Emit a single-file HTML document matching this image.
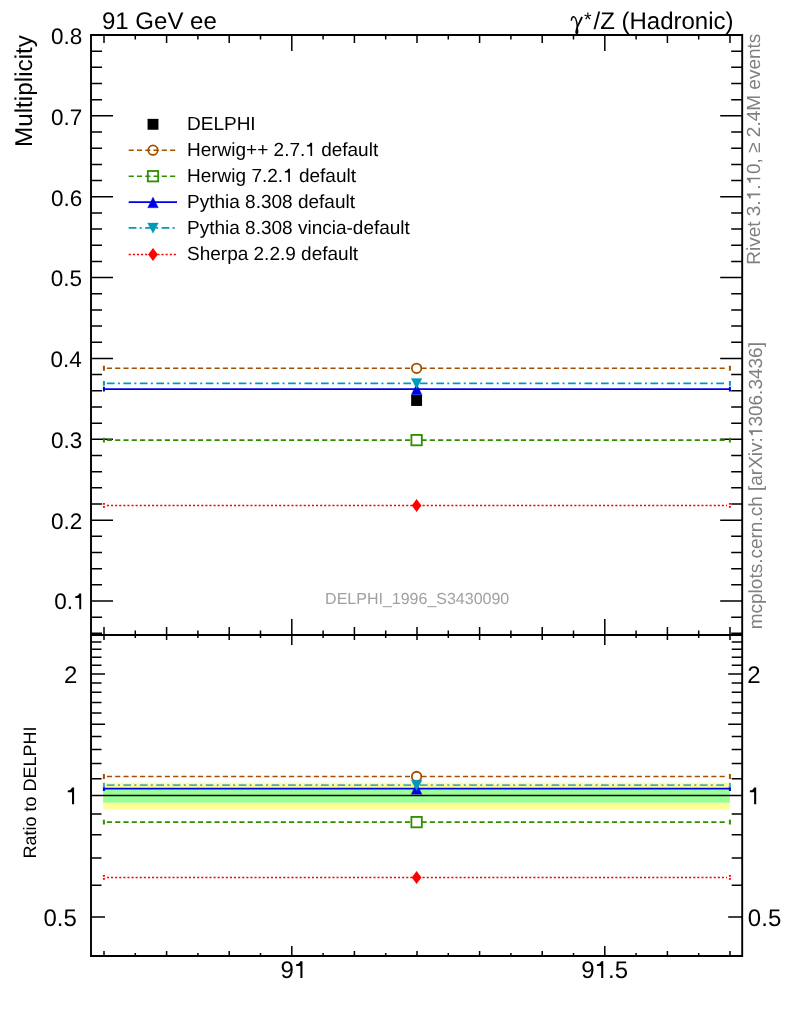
<!DOCTYPE html><html><head><meta charset="utf-8"><style>html,body{margin:0;padding:0;background:#fff;width:786px;height:1024px;overflow:hidden;position:relative}</style></head><body><svg width="786" height="1024" viewBox="0 0 786 1024" style="position:absolute;left:0;top:0;will-change:transform;text-rendering:geometricPrecision;white-space:pre">
<rect x="0" y="0" width="786" height="1024" fill="#fff"/>
<rect x="103.10000000000001" y="782.7" width="626.8" height="27" fill="#ffff99"/>
<rect x="103.10000000000001" y="789.1" width="626.8" height="13.6" fill="#99ff99"/>
<line x1="91" y1="795.6" x2="742" y2="795.6" stroke="#000" stroke-width="1.5"/>
<path d="M91 35.00h22M742.2 35.00h-22M91 51.17h11M742.2 51.17h-11M91 67.34h11M742.2 67.34h-11M91 83.52h11M742.2 83.52h-11M91 99.69h11M742.2 99.69h-11M91 115.86h22M742.2 115.86h-22M91 132.03h11M742.2 132.03h-11M91 148.20h11M742.2 148.20h-11M91 164.38h11M742.2 164.38h-11M91 180.55h11M742.2 180.55h-11M91 196.72h22M742.2 196.72h-22M91 212.89h11M742.2 212.89h-11M91 229.06h11M742.2 229.06h-11M91 245.24h11M742.2 245.24h-11M91 261.41h11M742.2 261.41h-11M91 277.58h22M742.2 277.58h-22M91 293.75h11M742.2 293.75h-11M91 309.92h11M742.2 309.92h-11M91 326.10h11M742.2 326.10h-11M91 342.27h11M742.2 342.27h-11M91 358.44h22M742.2 358.44h-22M91 374.61h11M742.2 374.61h-11M91 390.78h11M742.2 390.78h-11M91 406.96h11M742.2 406.96h-11M91 423.13h11M742.2 423.13h-11M91 439.30h22M742.2 439.30h-22M91 455.47h11M742.2 455.47h-11M91 471.64h11M742.2 471.64h-11M91 487.82h11M742.2 487.82h-11M91 503.99h11M742.2 503.99h-11M91 520.16h22M742.2 520.16h-22M91 536.33h11M742.2 536.33h-11M91 552.50h11M742.2 552.50h-11M91 568.68h11M742.2 568.68h-11M91 584.85h11M742.2 584.85h-11M91 601.02h22M742.2 601.02h-22M91 617.19h11M742.2 617.19h-11M91 633.36h11M742.2 633.36h-11M91 956.27h10.5M742.2 956.27h-10.5M91 917.12h14M742.2 917.12h-14M91 885.13h10.5M742.2 885.13h-10.5M91 858.08h10.5M742.2 858.08h-10.5M91 834.65h10.5M742.2 834.65h-10.5M91 813.99h10.5M742.2 813.99h-10.5M91 778.78h10.5M742.2 778.78h-10.5M91 763.51h10.5M742.2 763.51h-10.5M91 749.47h10.5M742.2 749.47h-10.5M91 736.46h10.5M742.2 736.46h-10.5M91 724.36h14M742.2 724.36h-14M91 713.04h10.5M742.2 713.04h-10.5M91 702.40h10.5M742.2 702.40h-10.5M91 692.37h10.5M742.2 692.37h-10.5M91 682.88h10.5M742.2 682.88h-10.5M91 673.88h14M742.2 673.88h-14M91 665.32h10.5M742.2 665.32h-10.5M91 657.16h10.5M742.2 657.16h-10.5M91 649.36h10.5M742.2 649.36h-10.5M91 641.89h10.5M742.2 641.89h-10.5M91 634.73h10.5M742.2 634.73h-10.5M104.00 35v8M104.00 635v-8M104.00 635v5M104.00 956v-5M135.30 35v4.5M135.30 635v-4.5M135.30 635v3M135.30 956v-3M166.60 35v8M166.60 635v-8M166.60 635v5M166.60 956v-5M197.90 35v4.5M197.90 635v-4.5M197.90 635v3M197.90 956v-3M229.20 35v8M229.20 635v-8M229.20 635v5M229.20 956v-5M260.50 35v4.5M260.50 635v-4.5M260.50 635v3M260.50 956v-3M291.80 35v16M291.80 635v-16M291.80 635v10M291.80 956v-10M323.10 35v4.5M323.10 635v-4.5M323.10 635v3M323.10 956v-3M354.40 35v8M354.40 635v-8M354.40 635v5M354.40 956v-5M385.70 35v4.5M385.70 635v-4.5M385.70 635v3M385.70 956v-3M417.00 35v8M417.00 635v-8M417.00 635v5M417.00 956v-5M448.30 35v4.5M448.30 635v-4.5M448.30 635v3M448.30 956v-3M479.60 35v8M479.60 635v-8M479.60 635v5M479.60 956v-5M510.90 35v4.5M510.90 635v-4.5M510.90 635v3M510.90 956v-3M542.20 35v8M542.20 635v-8M542.20 635v5M542.20 956v-5M573.50 35v4.5M573.50 635v-4.5M573.50 635v3M573.50 956v-3M604.80 35v16M604.80 635v-16M604.80 635v10M604.80 956v-10M636.10 35v4.5M636.10 635v-4.5M636.10 635v3M636.10 956v-3M667.40 35v8M667.40 635v-8M667.40 635v5M667.40 956v-5M698.70 35v4.5M698.70 635v-4.5M698.70 635v3M698.70 956v-3M730.00 35v8M730.00 635v-8M730.00 635v5M730.00 956v-5" stroke="#000" stroke-width="1.5" fill="none"/>
<path d="M106.9 368.30H727" stroke="#a24f00" stroke-width="1.6" fill="none" stroke-dasharray="5.1 3.18"/><path d="M103.9 365.85v4.9M729.9 365.85v4.9" stroke="#a24f00" stroke-width="2" fill="none"/>
<path d="M106.9 776.50H727" stroke="#a24f00" stroke-width="1.6" fill="none" stroke-dasharray="5.1 3.18"/><path d="M103.9 774.05v4.9M729.9 774.05v4.9" stroke="#a24f00" stroke-width="2" fill="none"/>
<path d="M106.9 440.11H727" stroke="#2f8d00" stroke-width="1.6" fill="none" stroke-dasharray="5.1 3.18"/><path d="M103.9 437.66v4.9M729.9 437.66v4.9" stroke="#2f8d00" stroke-width="2" fill="none"/>
<path d="M106.9 822.13H727" stroke="#2f8d00" stroke-width="1.6" fill="none" stroke-dasharray="5.1 3.18"/><path d="M103.9 819.68v4.9M729.9 819.68v4.9" stroke="#2f8d00" stroke-width="2" fill="none"/>
<path d="M103.9 389.09H729.9" stroke="#0000e6" stroke-width="1.8" fill="none"/><path d="M103.9 386.64v4.9M729.9 386.64v4.9" stroke="#0000e6" stroke-width="2" fill="none"/>
<path d="M103.9 788.53H729.9" stroke="#0000e6" stroke-width="1.8" fill="none"/><path d="M103.9 786.08v4.9M729.9 786.08v4.9" stroke="#0000e6" stroke-width="2" fill="none"/>
<path d="M106.9 383.34H727" stroke="#0099bb" stroke-width="1.6" fill="none" stroke-dasharray="7.7 3.3 2.0 3.47"/><path d="M103.9 380.89v4.9M729.9 380.89v4.9" stroke="#0099bb" stroke-width="2" fill="none"/>
<path d="M106.9 785.12H727" stroke="#45adbb" stroke-width="1.6" fill="none" stroke-dasharray="7.7 3.3 2.0 3.47"/><path d="M103.9 782.67v4.9M729.9 782.67v4.9" stroke="#45adbb" stroke-width="2" fill="none"/>
<path d="M106.9 505.52H727" stroke="#ff0000" stroke-width="1.6" fill="none" stroke-dasharray="2.1 2.0"/><path d="M103.9 503.07v4.9M729.9 503.07v4.9" stroke="#ff0000" stroke-width="2" fill="none" stroke-dasharray="1.6 1.4"/>
<path d="M106.9 877.48H727" stroke="#ff0000" stroke-width="1.6" fill="none" stroke-dasharray="2.1 2.0"/><path d="M103.9 875.03v4.9M729.9 875.03v4.9" stroke="#ff0000" stroke-width="2" fill="none" stroke-dasharray="1.6 1.4"/>
<rect x="411.15000000000003" y="395.04" width="10.9" height="10.9" fill="#000"/>
<circle cx="416.6" cy="368.30492000000004" r="4.75" fill="#fff" stroke="#a24f00" stroke-width="1.8"/>
<circle cx="416.6" cy="776.5004614383733" r="4.75" fill="#fff" stroke="#a24f00" stroke-width="1.8"/>
<rect x="411.40000000000003" y="434.9086000000001" width="10.4" height="10.4" fill="#fff" stroke="#2f8d00" stroke-width="1.8"/>
<rect x="411.40000000000003" y="816.9268544713491" width="10.4" height="10.4" fill="#fff" stroke="#2f8d00" stroke-width="1.8"/>
<path d="M416.6 383.99L422.0 394.79L411.20000000000005 394.79Z" fill="#0000e6" stroke="#0000e6" stroke-width="0.3" stroke-linejoin="round"/>
<path d="M416.6 783.43L422.0 794.23L411.20000000000005 794.23Z" fill="#0000e6" stroke="#0000e6" stroke-width="0.3" stroke-linejoin="round"/>
<path d="M416.6 388.74L422.0 378.44L411.20000000000005 378.44Z" fill="#0099bb" stroke="#0099bb" stroke-width="0.3" stroke-linejoin="round"/>
<path d="M416.6 790.52L422.0 780.22L411.20000000000005 780.22Z" fill="#0099bb" stroke="#0099bb" stroke-width="0.3" stroke-linejoin="round"/>
<path d="M416.6 499.07L421.45000000000005 505.52L416.6 511.97L411.75 505.52Z" fill="#ff0000"/>
<path d="M416.6 871.03L421.45000000000005 877.48L416.6 883.93L411.75 877.48Z" fill="#ff0000"/>
<path d="M91 35H742.2V956H91Z M91 635H742.2" stroke="#000" stroke-width="1.9" fill="none"/>
<rect x="147.55" y="118.85" width="10.9" height="10.9" fill="#000"/>
<path d="M128.7 150.2H177" stroke="#a24f00" stroke-width="1.6" fill="none" stroke-dasharray="5.1 3.18"/>
<circle cx="153" cy="150.2" r="4.75" fill="none" stroke="#a24f00" stroke-width="1.8"/>
<path d="M128.7 176.2H177" stroke="#2f8d00" stroke-width="1.6" fill="none" stroke-dasharray="5.1 3.18"/>
<rect x="147.8" y="171.0" width="10.4" height="10.4" fill="none" stroke="#2f8d00" stroke-width="1.8"/>
<path d="M128.7 202.1H177" stroke="#0000e6" stroke-width="1.8" fill="none"/>
<path d="M153 197.00L158.4 207.80L147.6 207.80Z" fill="#0000e6" stroke="#0000e6" stroke-width="0.3" stroke-linejoin="round"/>
<path d="M128.7 227.9H177" stroke="#0099bb" stroke-width="1.6" fill="none" stroke-dasharray="7.7 3.3 2.0 3.47"/>
<path d="M153 233.30L158.4 223.00L147.6 223.00Z" fill="#0099bb" stroke="#0099bb" stroke-width="0.3" stroke-linejoin="round"/>
<path d="M128.7 254.5H177" stroke="#ff0000" stroke-width="1.6" fill="none" stroke-dasharray="2.1 2.0"/>
<path d="M153 248.05L157.85 254.50L153 260.95L148.15 254.50Z" fill="#ff0000"/>
<text x="187.00" y="130.20" font-size="19" fill="#000" font-family="Liberation Sans, sans-serif">DELPHI</text>
<text x="187.00" y="156.10" font-size="19" fill="#000" font-family="Liberation Sans, sans-serif">Herwig++ 2.7.</text><path transform="translate(305.29,156.10) scale(0.01900,-0.01900)" d="M359 703V0H272V500H95V578C185 584 245 620 268 703Z" fill="#000"/><text x="321.13" y="156.10" font-size="19" fill="#000" font-family="Liberation Sans, sans-serif">default</text>
<text x="187.00" y="182.10" font-size="19" fill="#000" font-family="Liberation Sans, sans-serif">Herwig 7.2.</text><path transform="translate(283.09,182.10) scale(0.01900,-0.01900)" d="M359 703V0H272V500H95V578C185 584 245 620 268 703Z" fill="#000"/><text x="298.94" y="182.10" font-size="19" fill="#000" font-family="Liberation Sans, sans-serif">default</text>
<text x="187.00" y="208.00" font-size="19" fill="#000" font-family="Liberation Sans, sans-serif">Pythia 8.308 default</text>
<text x="187.00" y="233.80" font-size="19" fill="#000" font-family="Liberation Sans, sans-serif">Pythia 8.308 vincia-default</text>
<text x="187.00" y="260.40" font-size="19" fill="#000" font-family="Liberation Sans, sans-serif">Sherpa 2.2.9 default</text>
<text x="102" y="29" font-size="24" font-family="Liberation Sans, sans-serif">91 GeV ee</text>
<path d="M571.3 20.8C571.5 18 572.5 16.7 573.7 16.7C575.6 16.7 576.7 20.5 577.4 26.6" stroke="#000" stroke-width="1.5" fill="none"/>
<path d="M581.2 16.6L582.9 17.4L578.1 27.2L576.7 26.6Z" fill="#000"/>
<path d="M576.6 25.8L578.1 26.2C577.9 28 578.4 30.3 578.4 32.1C578.4 33.6 577.7 34.2 576.8 34.2C575.9 34.2 575.3 33.6 575.3 32.3C575.3 30.4 576.3 28.2 576.6 25.8Z" fill="#000"/>
<text x="584" y="25.6" font-size="19.5" font-family="Liberation Sans, sans-serif">*</text>
<text x="733.5" y="28.8" font-size="24" text-anchor="end" font-family="Liberation Sans, sans-serif">/Z (Hadronic)</text>
<text transform="translate(31.8,35) rotate(-90)" font-size="24.3" text-anchor="end" font-family="Liberation Sans, sans-serif">Multiplicity</text>
<text transform="translate(35.8,792.5) rotate(-90)" font-size="18" text-anchor="middle" font-family="Liberation Sans, sans-serif">Ratio to DELPHI</text>
<text x="54.36" y="609.22" font-size="22.5" fill="#000" font-family="Liberation Sans, sans-serif">0.</text><path transform="translate(73.12,609.22) scale(0.02250,-0.02250)" d="M359 703V0H272V500H95V578C185 584 245 620 268 703Z" fill="#000"/>
<text x="51.05" y="528.96" font-size="22.5" fill="#000" font-family="Liberation Sans, sans-serif">0.2</text>
<text x="50.91" y="448.10" font-size="22.5" fill="#000" font-family="Liberation Sans, sans-serif">0.3</text>
<text x="50.58" y="367.24" font-size="22.5" fill="#000" font-family="Liberation Sans, sans-serif">0.4</text>
<text x="50.87" y="286.38" font-size="22.5" fill="#000" font-family="Liberation Sans, sans-serif">0.5</text>
<text x="50.91" y="205.52" font-size="22.5" fill="#000" font-family="Liberation Sans, sans-serif">0.6</text>
<text x="51.05" y="124.66" font-size="22.5" fill="#000" font-family="Liberation Sans, sans-serif">0.7</text>
<text x="50.90" y="43.80" font-size="22.5" fill="#000" font-family="Liberation Sans, sans-serif">0.8</text>
<text x="63.96" y="682.68" font-size="24" fill="#000" font-family="Liberation Sans, sans-serif">2</text>
<text x="747.29" y="682.68" font-size="24" fill="#000" font-family="Liberation Sans, sans-serif">2</text>
<path transform="translate(65.48,804.30) scale(0.02400,-0.02400)" d="M359 703V0H272V500H95V578C185 584 245 620 268 703Z" fill="#000"/>
<path transform="translate(747.59,804.30) scale(0.02400,-0.02400)" d="M359 703V0H272V500H95V578C185 584 245 620 268 703Z" fill="#000"/>
<text x="43.44" y="925.92" font-size="24" fill="#000" font-family="Liberation Sans, sans-serif">0.5</text>
<text x="747.86" y="925.92" font-size="24" fill="#000" font-family="Liberation Sans, sans-serif">0.5</text>
<text x="280.51" y="978.10" font-size="24" fill="#000" font-family="Liberation Sans, sans-serif">9</text><path transform="translate(293.85,978.10) scale(0.02400,-0.02400)" d="M359 703V0H272V500H95V578C185 584 245 620 268 703Z" fill="#000"/>
<text x="581.29" y="978.10" font-size="24" fill="#000" font-family="Liberation Sans, sans-serif">9</text><path transform="translate(594.64,978.10) scale(0.02400,-0.02400)" d="M359 703V0H272V500H95V578C185 584 245 620 268 703Z" fill="#000"/><text x="607.98" y="978.10" font-size="24" fill="#000" font-family="Liberation Sans, sans-serif">.5</text>
<text x="417.2" y="603.8" font-size="16" text-anchor="middle" fill="#a0a0a0" font-family="Liberation Sans, sans-serif">DELPHI_1996_S3430090</text>
<g transform="translate(760.2,264.8) rotate(-90)"><text x="0.00" y="0.00" font-size="19" fill="#808080" font-family="Liberation Sans, sans-serif">Rivet 3.</text><path transform="translate(64.41,0.00) scale(0.01900,-0.01900)" d="M359 703V0H272V500H95V578C185 584 245 620 268 703Z" fill="#808080"/><text x="74.98" y="0.00" font-size="19" fill="#808080" font-family="Liberation Sans, sans-serif">.</text><path transform="translate(80.26,0.00) scale(0.01900,-0.01900)" d="M359 703V0H272V500H95V578C185 584 245 620 268 703Z" fill="#808080"/><text x="90.82" y="0.00" font-size="19" fill="#808080" font-family="Liberation Sans, sans-serif">0, ≥ 2.4M events</text></g>
<g transform="translate(762.3,629.3) rotate(-90)"><text x="0.00" y="0.00" font-size="19" fill="#808080" font-family="Liberation Sans, sans-serif">mcplots.cern.ch [arXiv:</text><path transform="translate(192.17,0.00) scale(0.01900,-0.01900)" d="M359 703V0H272V500H95V578C185 584 245 620 268 703Z" fill="#808080"/><text x="202.73" y="0.00" font-size="19" fill="#808080" font-family="Liberation Sans, sans-serif">306.3436]</text></g>
</svg></body></html>
